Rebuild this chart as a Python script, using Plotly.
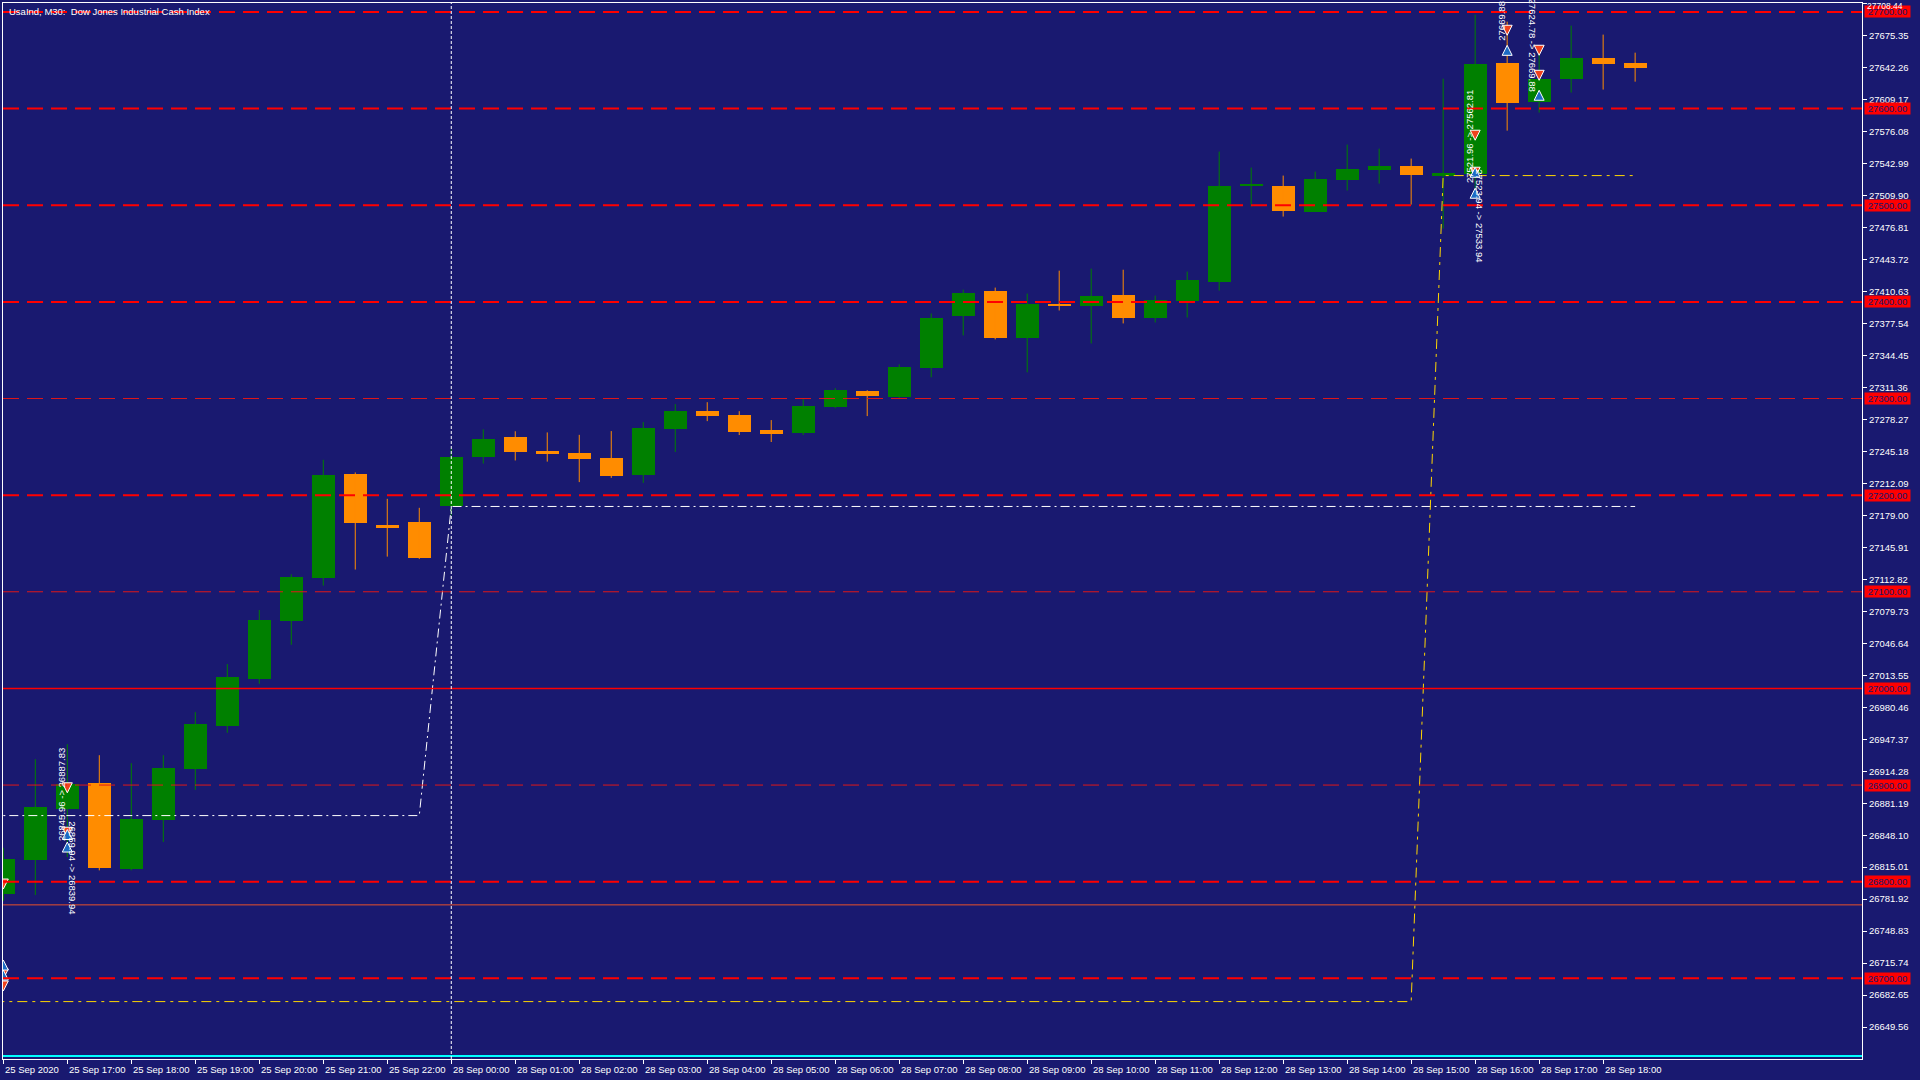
import plotly.graph_objects as go

# ---------------- data ----------------
bar_times = ([f"25 Sep {h:02d}:{m:02d}" for h in range(16, 23) for m in (0, 30)] +
             [f"28 Sep {h:02d}:{m:02d}" for h in range(0, 19) for m in (0, 30)])

opens = [26787.0, 26822.4, 26875.3, 26901.9, 26812.8, 26863.9, 26916.8, 26961.3, 27010.0, 27069.8,
         27114.7, 27222.1, 27169.3, 27172.4, 27188.5, 27239.4, 27259.8, 27246.2, 27243.8, 27238.5,
         27221.0, 27268.4, 27286.9, 27282.8, 27267.4, 27264.3, 27291.1, 27307.6, 27301.4, 27331.3,
         27385.9, 27411.7, 27362.2, 27398.3, 27396.2, 27407.6, 27383.8, 27401.4, 27421.0, 27520.2,
         27520.3, 27493.4, 27526.6, 27536.9, 27541.0, 27530.7, 27532.8, 27647.6, 27607.2, 27631.0,
         27652.8, 27647.6]
highs = [26835.0, 26926.8, 26942.3, 26930.9, 26922.6, 26930.9, 26975.5, 27025.2, 27081.2, 27118.1,
         27236.6, 27223.5, 27196.2, 27186.9, 27248.4, 27268.1, 27266.1, 27264.9, 27262.4, 27266.3,
         27275.6, 27294.2, 27296.2, 27286.9, 27277.7, 27299.3, 27310.7, 27308.6, 27335.4, 27388.0,
         27412.7, 27414.8, 27408.6, 27432.3, 27434.4, 27433.3, 27406.5, 27431.3, 27555.5, 27539.0,
         27530.7, 27534.8, 27562.8, 27558.6, 27548.3, 27631.0, 27697.2, 27690.0, 27660.0, 27685.9,
         27676.6, 27657.9]
lows = [26780.0, 26786.2, 26825.6, 26811.7, 26811.7, 26841.1, 26895.0, 26954.1, 27004.8, 27045.2,
        27106.4, 27123.0, 27136.4, 27134.0, 27179.0, 27232.7, 27235.9, 27234.7, 27213.5, 27217.9,
        27212.7, 27244.7, 27276.6, 27262.2, 27255.0, 27262.2, 27290.0, 27281.8, 27300.5, 27322.0,
        27365.3, 27361.2, 27327.1, 27391.1, 27357.0, 27377.7, 27378.7, 27383.8, 27411.7, 27498.6,
        27488.3, 27493.4, 27515.2, 27522.4, 27500.7, 27475.9, 27512.0, 27577.2, 27595.9, 27616.6,
        27619.7, 27627.9]
closes = [26823.0, 26877.0, 26900.9, 26814.2, 26864.6, 26917.4, 26963.0, 27011.7, 27070.8, 27115.4,
          27221.1, 27171.7, 27165.5, 27135.4, 27239.7, 27258.6, 27244.2, 27242.6, 27237.6, 27219.9,
          27269.4, 27286.9, 27281.8, 27265.3, 27263.2, 27292.1, 27308.6, 27302.4, 27332.3, 27383.8,
          27409.6, 27362.2, 27398.3, 27396.2, 27406.5, 27383.8, 27402.4, 27423.0, 27520.3, 27520.6,
          27494.5, 27527.6, 27537.9, 27541.0, 27531.7, 27533.8, 27646.6, 27606.2, 27631.0, 27652.8,
          27646.6, 27642.4]

x_ticks = [0, 2, 4, 6, 8, 10, 12, 14, 16, 18, 20, 22, 24, 26, 28, 30, 32, 34, 36, 38, 40, 42,
           44, 46, 48, 50]
x_tick_text = ["25 Sep 2020", "25 Sep 17:00", "25 Sep 18:00", "25 Sep 19:00", "25 Sep 20:00",
               "25 Sep 21:00", "25 Sep 22:00", "28 Sep 00:00", "28 Sep 01:00", "28 Sep 02:00",
               "28 Sep 03:00", "28 Sep 04:00", "28 Sep 05:00", "28 Sep 06:00", "28 Sep 07:00",
               "28 Sep 08:00", "28 Sep 09:00", "28 Sep 10:00", "28 Sep 11:00", "28 Sep 12:00",
               "28 Sep 13:00", "28 Sep 14:00", "28 Sep 15:00", "28 Sep 16:00", "28 Sep 17:00",
               "28 Sep 18:00"]

y_ticks = [27708.44, 27675.35, 27642.26, 27609.17, 27576.08, 27542.99, 27509.90, 27476.81,
           27443.72, 27410.63, 27377.54, 27344.45, 27311.36, 27278.27, 27245.18, 27212.09,
           27179.00, 27145.91, 27112.82, 27079.73, 27046.64, 27013.55, 26980.46, 26947.37,
           26914.28, 26881.19, 26848.10, 26815.01, 26781.92, 26748.83, 26715.74, 26682.65,
           26649.56]

levels_bright = [27700, 27600, 27500, 27400, 27200, 26800, 26700]
levels_dim = [27300, 27100, 26900]
level_solid = [27000]
level_labels = [27700, 27600, 27500, 27400, 27300, 27200, 27100, 27000, 26900, 26800, 26700]
line_orange = [26776.0]
line_cyan = [26619.5]
separator_x = [14]

trail_white_x = [-1, 13, 14, 51]
trail_white_y = [26868.4, 26868.4, 27188.3, 27188.3]
trail_yellow_x = [-1, 44, 45, 51]
trail_yellow_y = [26675.9, 26675.9, 27530.7, 27530.7]

sell_x = [0, 0, 0, 2, 2, 46, 46, 47, 48, 48]
sell_y = [26792.4, 26699.3, 26686.9, 26892.0, 26846.0, 27567.3, 27529.0, 27675.9, 27655.2, 27629.3]
buy_x = [0, 0, 2, 2, 46, 46, 47, 48]
buy_y = [26718.9, 26708.6, 26854.0, 26841.0, 27539.3, 27517.6, 27665.5, 27619.0]

trade_text = ["26845.96 -> 26887.83", "26859.94 -> 26839.94", "27521.96 -> 27562.81",
              "27523.94 -> 27533.94", "27669.88", "27624.78 -> 27669.88"]
trade_text_x = [1.8, 2.17, 45.8, 46.15, 46.82, 47.8]
trade_text_y = [26890.6, 26814.1, 27571.4, 27488.6, 27691.4, 27665.5]
trade_text_angle = [-90, 90, -90, 90, -90, 90]

title_text = "UsaInd, M30:  Dow Jones Industrial Cash Index"

# ---------------- style ----------------
BG = "#191970"
BULL = "#008000"
BEAR = "#FF8C00"
FONT = "Liberation Sans"
X_RANGE = [-0.01, 58.09]
Y_RANGE = [26616.5, 27709.3]

fig = go.Figure()

idx = list(range(len(opens)))

# wicks
for color, cond in ((BULL, lambda o, c: c >= o), (BEAR, lambda o, c: c < o)):
    wx, wy = [], []
    for i in idx:
        if cond(opens[i], closes[i]):
            wx += [i, i, None]
            wy += [lows[i], highs[i], None]
    fig.add_trace(go.Scatter(x=wx, y=wy, mode="lines", line=dict(color=color, width=1),
                             hoverinfo="skip"))

# bodies
for color, cond in ((BULL, lambda o, c: c >= o), (BEAR, lambda o, c: c < o)):
    bx, bb, bh, bt = [], [], [], []
    for i in idx:
        if cond(opens[i], closes[i]):
            bx.append(i)
            bb.append(min(opens[i], closes[i]))
            bh.append(max(abs(closes[i] - opens[i]), 1.3))
            bt.append(bar_times[i])
    fig.add_trace(go.Bar(x=bx, y=bh, base=bb, width=0.72, marker=dict(color=color, line=dict(width=0)),
                         hovertext=bt))

# trails
fig.add_trace(go.Scatter(x=trail_white_x, y=trail_white_y, mode="lines",
                         line=dict(color="white", width=1, dash="9px,4px,2px,4px"), hoverinfo="skip"))
fig.add_trace(go.Scatter(x=trail_yellow_x, y=trail_yellow_y, mode="lines",
                         line=dict(color="#FFD700", width=1, dash="10px,5px,3px,5px"), hoverinfo="skip"))

# arrows
fig.add_trace(go.Scatter(x=sell_x, y=sell_y, mode="markers",
                         marker=dict(symbol="arrow-down", size=10, color="#F0421E",
                                     line=dict(color="white", width=1)), hoverinfo="skip"))
fig.add_trace(go.Scatter(x=buy_x, y=buy_y, mode="markers",
                         marker=dict(symbol="arrow-up", size=10, color="#1C6BC4",
                                     line=dict(color="white", width=1)), hoverinfo="skip"))

shapes = []
for v in levels_bright:
    shapes.append(dict(type="line", xref="paper", x0=0, x1=1, yref="y", y0=v, y1=v,
                       line=dict(color="#FF0000", width=2, dash="16px,8px"), layer="above"))
for v in levels_dim:
    shapes.append(dict(type="line", xref="paper", x0=0, x1=1, yref="y", y0=v, y1=v,
                       line=dict(color="#E01818", width=1, dash="16px,8px"), layer="above"))
for v in level_solid:
    shapes.append(dict(type="line", xref="paper", x0=0, x1=1, yref="y", y0=v, y1=v,
                       line=dict(color="#FF0000", width=1.5), layer="above"))
for v in line_orange:
    shapes.append(dict(type="line", xref="paper", x0=0, x1=1, yref="y", y0=v, y1=v,
                       line=dict(color="#E8502A", width=1), layer="above"))
for v in line_cyan:
    shapes.append(dict(type="line", xref="paper", x0=0, x1=1, yref="y", y0=v, y1=v,
                       line=dict(color="#00FFFF", width=2), layer="above"))
for v in separator_x:
    shapes.append(dict(type="line", xref="x", x0=v, x1=v, yref="paper", y0=0, y1=1,
                       line=dict(color="white", width=1, dash="3px,2px"), layer="above"))

annotations = []
annotations.append(dict(text=title_text, xref="paper", yref="paper", x=0, y=1, xanchor="left",
                        yanchor="top", xshift=4, yshift=-1, showarrow=False,
                        font=dict(color="white", size=9.5, family=FONT)))
for v in level_labels:
    annotations.append(dict(text=f" {v:.2f} ", xref="paper", yref="y", x=1, y=v, xanchor="left",
                            yanchor="middle", xshift=2, showarrow=False, bgcolor="#FF0000",
                            borderpad=0, font=dict(color="#191970", size=9.5, family=FONT)))
# top tick label kept inside the page, drawn above the 27700 price box
annotations.append(dict(text=f"{y_ticks[0]:.2f}", xref="paper", yref="paper", x=1, y=1,
                        xanchor="left", yanchor="top", xshift=4, yshift=3, showarrow=False,
                        borderpad=0, font=dict(color="white", size=8.5, family=FONT)))
for p, t in zip(x_ticks, x_tick_text):
    annotations.append(dict(text=t, xref="x", yref="paper", x=p, y=0, xanchor="left",
                            yanchor="top", xshift=0, yshift=-3, showarrow=False,
                            font=dict(color="white", size=9.5, family=FONT)))
for t, tx, ty, ta in zip(trade_text, trade_text_x, trade_text_y, trade_text_angle):
    annotations.append(dict(text=t, xref="x", yref="y", x=tx, y=ty, xanchor="center",
                            yanchor="middle", textangle=ta, showarrow=False,
                            font=dict(color="white", size=9.5, family=FONT)))

y_tick_text = [""] + [f"{v:.2f}" for v in y_ticks[1:]]

fig.update_layout(
    width=1920, height=1080,
    margin=dict(l=3, r=58, t=3, b=21, pad=0),
    paper_bgcolor=BG, plot_bgcolor=BG,
    showlegend=False, barmode="overlay", bargap=0,
    font=dict(family=FONT, color="white", size=9.5),
    xaxis=dict(range=X_RANGE, showgrid=False, zeroline=False, showline=True, linecolor="white",
               linewidth=1, mirror=True, ticks="outside", ticklen=4, tickcolor="white",
               tickvals=x_ticks, showticklabels=False, fixedrange=True, automargin=False),
    yaxis=dict(range=Y_RANGE, side="right", showgrid=False, zeroline=False, showline=True,
               linecolor="white", linewidth=1, mirror=True, ticks="outside", ticklen=4,
               tickcolor="white", tickvals=y_ticks, ticktext=y_tick_text,
               tickfont=dict(color="white", size=9.5, family=FONT), fixedrange=True,
               automargin=False),
    shapes=shapes, annotations=annotations,
)

fig.write_html("out.html", config={"displayModeBar": False},
               post_script="document.body.style.margin='0';document.body.style.overflow='hidden';")
